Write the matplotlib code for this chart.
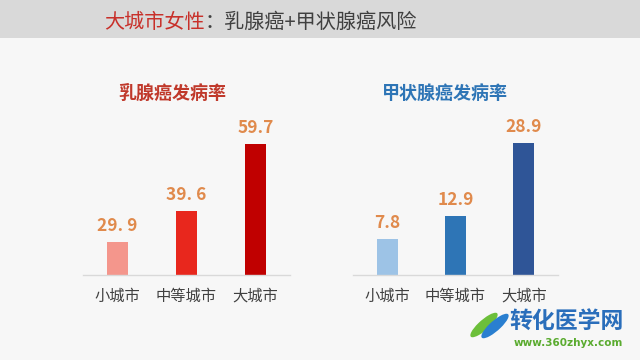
import matplotlib
matplotlib.use("Agg")
import matplotlib.pyplot as plt
from matplotlib.patches import Rectangle, Ellipse

plt.rcParams['font.family'] = ['Noto Sans CJK SC', 'DejaVu Sans']

categories = ["小城市", "中等城市", "大城市"]
breast_values = [29.9, 39.6, 59.7]
breast_labels = ["29. 9", "39. 6", "59.7"]
thyroid_values = [7.8, 12.9, 28.9]
thyroid_labels = ["7.8", "12.9", "28.9"]

breast_colors = ["#f4968c", "#e8271d", "#c00000"]
thyroid_colors = ["#9dc3e6", "#2e75b6", "#2f5597"]
label_color = "#e08a4c"

W, H = 640, 360
fig = plt.figure(figsize=(6.4, 3.6), dpi=100)
fig.patch.set_facecolor("#f7f7f7")

# title band
fig.patches.append(Rectangle((0, 1 - 38 / H), 1, 38 / H, transform=fig.transFigure,
                             facecolor="#d9d9d9", edgecolor="none", zorder=0))
fig.text(205 / W, 1 - 22 / H, "大城市女性", color="#c8302a", fontsize=14.5,
         ha="right", va="center")
fig.text(205 / W, 1 - 22 / H, "：乳腺癌+甲状腺癌风险", color="#404040", fontsize=14.5,
         ha="left", va="center")


def make_panel(left_px, width_px, ylim, values, labels, colors, title, title_color, title_x):
    base = 275
    top = 125
    ax = fig.add_axes([left_px / W, 1 - base / H, width_px / W, (base - top) / H])
    ax.set_facecolor("none")
    x = list(range(len(categories)))
    ax.bar(x, [v - ylim[0] for v in values], bottom=ylim[0], width=0.31,
           color=colors, zorder=2)
    ax.set_xlim(-0.5, 2.5)
    ax.set_ylim(*ylim)
    for s in ["top", "right", "left"]:
        ax.spines[s].set_visible(False)
    ax.spines["bottom"].set_color("#d9d9d9")
    ax.spines["bottom"].set_linewidth(1.0)
    ax.set_yticks([])
    ax.set_xticks(x)
    ax.set_xticklabels(categories, fontsize=11, color="#404040")
    ax.tick_params(axis="x", length=0, pad=9)
    for xi, v, lab in zip(x, values, labels):
        ax.annotate(lab, (xi, v), xytext=(0, 5), textcoords="offset points",
                    ha="center", va="bottom", color=label_color,
                    fontsize=12.5, fontweight="bold")
    fig.text(title_x / W, 1 - 93 / H, title, color=title_color, fontsize=13,
             fontweight="bold", ha="center", va="center")
    return ax


make_panel(83, 207, (20, 20 + 150 / 3.29), breast_values, breast_labels, breast_colors,
           "乳腺癌发病率", "#c0392b", 172)
make_panel(353, 205, (0, 150 / 4.57), thyroid_values, thyroid_labels, thyroid_colors,
           "甲状腺癌发病率", "#2e75b6", 445)

# logo
fig.patches.append(Ellipse((484 / W, 1 - 325 / H), 13 / W, 28 / H, angle=-30,
                           transform=fig.transFigure, facecolor="#6cbf3a",
                           edgecolor="none"))
fig.patches.append(Ellipse((495 / W, 1 - 326 / H), 13 / W, 28 / H, angle=-30,
                           transform=fig.transFigure, facecolor="#2a7fd0",
                           edgecolor="none"))
fig.text(566 / W, 1 - 322 / H, "转化医学网", color="#2a6ebb", fontsize=16.5,
         fontweight="bold", ha="center", va="center")
fig.text(568 / W, 1 - 343 / H, "www.360zhyx.com", color="#5aab2f", fontsize=7.5,
         fontweight="bold", ha="center", va="center", family=["DejaVu Sans"])

fig.savefig("out.png", dpi=100, facecolor=fig.get_facecolor())
